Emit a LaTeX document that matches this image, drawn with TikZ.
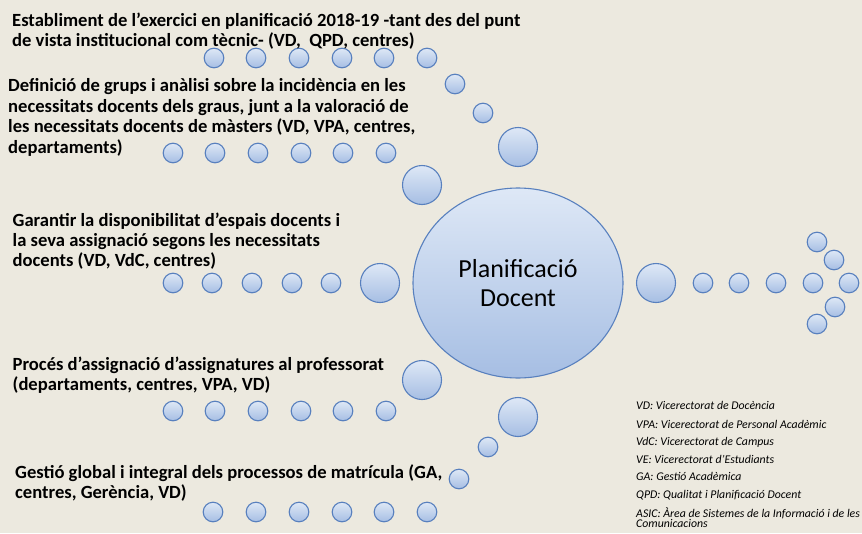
\documentclass[tikz,border=0pt]{standalone}
\usepackage{fontspec}
\setmainfont{Carlito}
\usetikzlibrary{shapes.geometric}
\definecolor{bgc}{RGB}{236,233,223}
\definecolor{ctop}{RGB}{222,232,246}
\definecolor{cbot}{RGB}{166,190,227}
\definecolor{bordc}{RGB}{88,128,190}
\tikzset{
  bub/.style={circle, draw=bordc, line width=1.1pt, top color=ctop, bottom color=cbot, inner sep=0pt, outer sep=0pt},
  sm/.style={bub, minimum size=19.6pt},
  bg/.style={bub, minimum size=39pt},
  lbl/.style={font=\bfseries\fontsize{18.6}{20.5}\selectfont, align=left, anchor=north west, inner sep=0pt, text=black},
  legend/.style={font=\itshape\fontsize{11.8}{11}\selectfont, align=left, anchor=north west, inner sep=0pt, text=black}
}
\begin{document}
\begin{tikzpicture}[x=1pt,y=-1pt]
\useasboundingbox (0,0) rectangle (862,533);
\fill[bgc] (0,0) rectangle (862,533);

% central ellipse
\node[ellipse, draw=bordc, line width=1.1pt, top color=ctop, bottom color=cbot,
      minimum width=210pt, minimum height=190pt, inner sep=0pt, align=center,
      font=\fontsize{26}{28.5}\selectfont] (center) at (518,283) {Planificació\\Docent};

% top row
\foreach \x [count=\i] in {214,256,299,342,384,427}
  \node[sm] (t\i) at (\x,58) {};
\node[sm] (d1) at (455,84) {};
\node[sm] (d2) at (483,113) {};
\node[bg] (b1) at (518,147) {};
% second row
\node[bg] (b2) at (422,185) {};
\foreach \x [count=\i] in {173,215,258,301,343,386}
  \node[sm] (r\i) at (\x,153) {};
% middle row left
\node[bg] (b3) at (380,283) {};
\foreach \x [count=\i] in {173,212,252,292,331}
  \node[sm] (m\i) at (\x,283) {};
% lower
\node[bg] (b4) at (422,380) {};
\foreach \x [count=\i] in {173,215,258,301,343,386}
  \node[sm] (s\i) at (\x,411) {};
\node[bg] (b5) at (518,417) {};
\node[sm] (e1) at (488,447) {};
\node[sm] (e2) at (459,479) {};
\foreach \x [count=\i] in {213,256,299,342,384,427}
  \node[sm] (u\i) at (\x,512) {};
% right arrow
\node[bg] (b6) at (656,283) {};
\foreach \x [count=\i] in {703,739,776,813,849}
  \node[sm] (a\i) at (\x,283) {};
\node[sm] (h1) at (817,242) {};
\node[sm] (h2) at (834,260) {};
\node[sm] (h3) at (835,307) {};
\node[sm] (h4) at (817,324) {};

% texts
\node[lbl, font=\bfseries\fontsize{18.6}{20.7}\selectfont] (txt1) at (12,11.5) {\strut Establiment de l’exercici en planificació 2018-19 -tant des del punt\\de vista institucional com tècnic- (VD,\ \ QPD, centres)};
\node[lbl] (txt2) at (8,77.35) {\strut Definició de grups i anàlisi sobre la incidència en les\\necessitats docents dels graus, junt a la valoració de\\les necessitats docents de màsters (VD, VPA, centres,\\departaments)};
\node[lbl, font=\bfseries\fontsize{18.6}{20}\selectfont] (txt3) at (12.5,212.7) {\strut Garantir la disponibilitat d’espais docents i\\la seva assignació segons les necessitats\\docents (VD, VdC, centres)};
\node[lbl, font=\bfseries\fontsize{18.6}{20}\selectfont] (txt4) at (12.5,356.7) {\strut Procés d’assignació d’assignatures al professorat\\(departaments, centres, VPA, VD)};
\node[lbl, font=\bfseries\fontsize{18.6}{20}\selectfont] (txt5) at (15,464.3) {\strut Gestió global i integral dels processos de matrícula (GA,\\centres, Gerència, VD)};

\node[legend] (leg) at (636,401) {\strut VD: Vicerectorat de Docència\\[6.5pt]
VPA: Vicerectorat de Personal Acadèmic\\[6.5pt]
VdC: Vicerectorat de Campus\\[6.5pt]
VE: Vicerectorat d’Estudiants\\[6.5pt]
GA: Gestió Acadèmica\\[6.5pt]
QPD: Qualitat i Planificació Docent\\[6.5pt]
ASIC: Àrea de Sistemes de la Informació i de les\\[-0.8pt]Comunicacions};
\end{tikzpicture}
\end{document}
